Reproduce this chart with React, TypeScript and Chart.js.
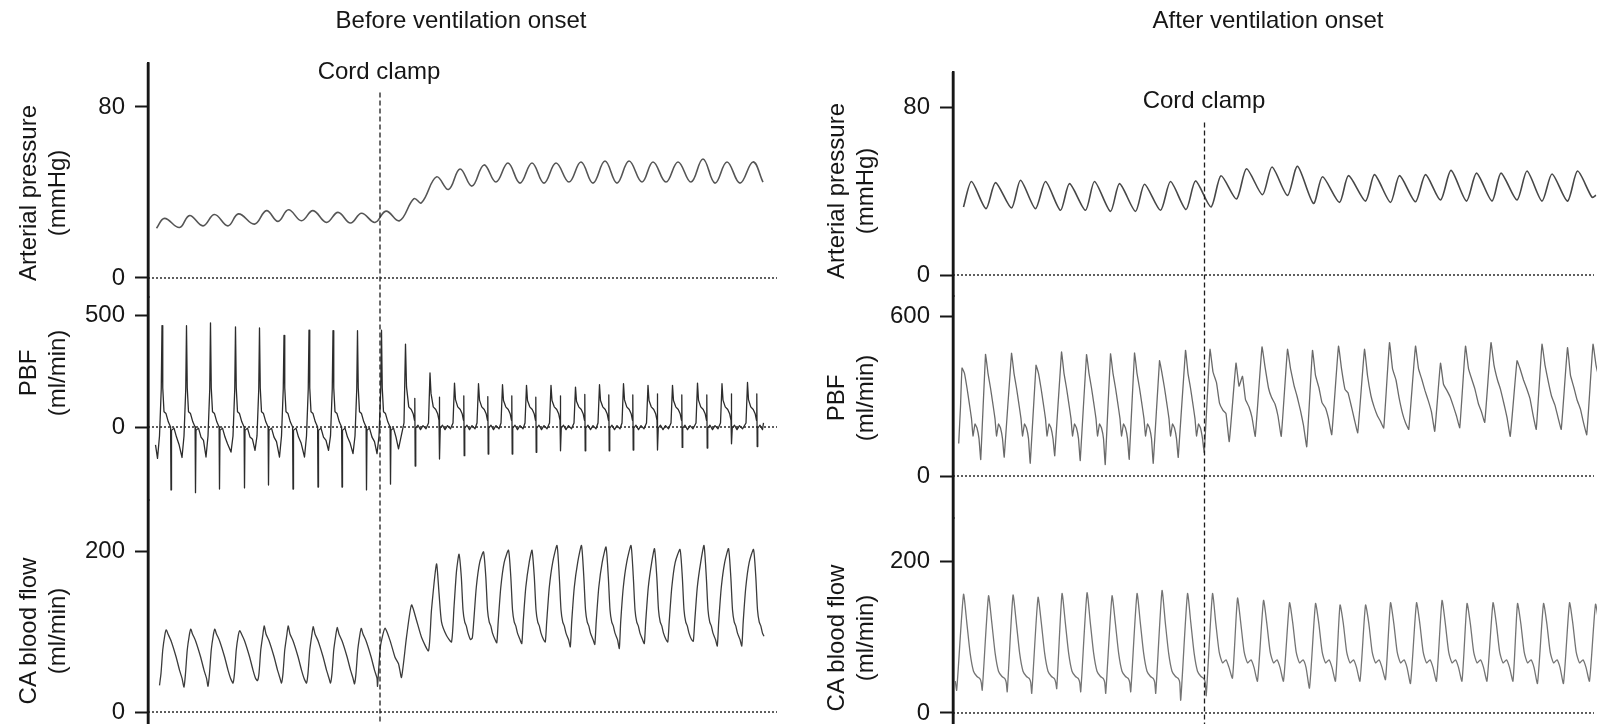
import React, { useEffect, useRef } from 'react';
import { Chart, registerables } from 'chart.js';

Chart.register(...registerables);

type Pair = [number, number];
type Shape = [number, number | string][];

const FONT = '"Liberation Sans", Arial, Helvetica, sans-serif';
const INK = '#161616';

// ================= LEFT PANEL: Before ventilation onset (time in s) =================
const cordClampBefore = 4.64;

const apBefore: Pair[] = [
  [0.17, 23.3], [0.33, 27.9], [0.63, 23.6], [0.83, 29.2], [1.10, 24.4], [1.33, 29.7], [1.60, 24.4],
  [1.81, 30.0], [2.13, 25.2], [2.37, 31.5], [2.60, 26.5], [2.81, 31.9], [3.07, 26.8], [3.30, 31.5],
  [3.57, 26.0], [3.80, 30.7], [4.05, 25.7], [4.27, 30.3], [4.54, 26.0], [4.76, 31.3], [5.03, 26.8],
  [5.32, 37.1], [5.47, 35.2], [5.77, 47.3], [6.01, 41.4], [6.24, 51.0], [6.48, 43.0], [6.72, 52.9],
  [6.96, 44.9], [7.20, 53.8], [7.44, 44.4], [7.68, 53.8], [7.92, 44.4], [8.16, 53.8], [8.42, 44.9],
  [8.66, 54.3], [8.90, 44.4], [9.14, 54.7], [9.38, 44.4], [9.62, 54.7], [9.88, 44.9], [10.10, 54.3],
  [10.36, 44.9], [10.60, 54.3], [10.86, 44.9], [11.10, 55.7], [11.34, 44.4], [11.58, 54.3],
  [11.84, 44.4], [12.10, 54.3], [12.30, 44.9],
];

const pbfBeforeLead: Pair[] = [[0.15, -80]];
const pbfPreTimes = [0.28, 0.77, 1.25, 1.75, 2.23, 2.72, 3.22, 3.70, 4.19, 4.67];
const pbfPrePeak = [453, 452, 465, 447, 442, 409, 432, 430, 430, 432];
const pbfPreDown = [-281, -293, -277, -272, -259, -277, -268, -268, -281, -255];
const pbfPreDip = [-140, -136, -134, -112, -104, -134, -134, -104, -119, -119];
const pbfPreMid = [-78, -60, -75, -55, -65, -70, -60, -70, -65, -98];
const pbfPreShape: Shape = [
  [-0.09, 'dip'], [-0.05, -40], [-0.015, 170], [0, 'pk'], [0.015, 175], [0.04, 68], [0.08, 60],
  [0.126, 23], [0.172, 0], [0.18, 'dn'], [0.19, -15], [0.24, -5], [0.29, -45], [0.34, 'mid'],
];
const pbfPostTimes = [5.15, 5.64, 6.13, 6.61, 7.09, 7.57, 8.06, 8.55, 9.03, 9.51, 10.0, 10.49, 10.99, 11.48, 11.99];
const pbfPostPeak = [370, 241, 196, 193, 189, 186, 186, 178, 189, 193, 186, 186, 196, 193, 199];
const pbfPostShoulder = [180, 150, 122, 120, 118, 118, 118, 115, 118, 121, 118, 118, 120, 120, 122];
const pbfPostUp = [128, 133, 139, 136, 139, 133, 139, 145, 143, 143, 148, 143, 143, 148, 148];
const pbfPostDown = [-174, -143, -128, -121, -121, -113, -106, -106, -106, -103, -103, -91, -94, -75, -87];
const pbfPostShape: Shape = [
  [-0.03, 18], [0, 'pk'], [0.02, 'sh'], [0.065, 90], [0.115, 78], [0.155, 58], [0.18, 30],
  [0.186, 'up'], [0.194, 'dn'], [0.205, -5], [0.25, 8], [0.3, -12], [0.35, 6], [0.41, -8],
];
const pbfBeforeTail: Pair[] = [[12.31, 18]];

const caPreTroughTimes = [0.23, 0.72, 1.20, 1.70, 2.19, 2.67, 3.17, 3.65, 4.13];
const caPreTrough = [33, 31, 32, 36, 39, 36, 36, 36, 35];
const caPrePeak = [102, 103, 103, 101, 107, 107, 106, 105, 104];
const caPreShape: Shape = [
  [0, 'tr'], [0.03, 48], [0.065, 77], [0.105, 95], [0.134, 'pk'], [0.17, 97], [0.234, 88],
  [0.334, 68], [0.40, 52], [0.45, 42],
];
const caTransition: Pair[] = [
  [4.59, 32], [4.65, 82], [4.74, 104], [4.84, 89], [4.94, 68], [5.01, 60], [5.07, 43], [5.17, 93],
  [5.27, 133], [5.37, 114], [5.47, 93], [5.61, 76], [5.67, 127], [5.77, 184], [5.82, 148],
  [5.87, 112], [5.97, 95], [6.07, 87], [6.12, 130], [6.17, 175],
];
const caPostTimes = [6.22, 6.71, 7.21, 7.68, 8.18, 8.67, 9.16, 9.66, 10.13, 10.64, 11.12, 11.61, 12.11];
const caPostPeak = [196, 199, 201, 201, 207, 207, 205, 207, 203, 202, 207, 203, 202];
const caPostTrough = [92, 86, 85, 87, 81, 84, 79, 85, 87, 88, 82, 82, 90];
const caPostShape: Shape = [
  [0, 'pk'], [0.046, 168], [0.08, 127], [0.114, 112], [0.146, 107], [0.18, 98], [0.23, 90],
  [0.266, 'tr'], [0.294, 112], [0.346, 155], [0.414, 186],
];
const caBeforeTail: Pair[] = [[12.32, 94]];

// ================= RIGHT PANEL: After ventilation onset (time in s) =================
const cordClampAfter = 5.03;

const apAfter: Pair[] = [
  [0.21, 32.4], [0.37, 44.5], [0.66, 31.6], [0.85, 44.0], [1.17, 31.9], [1.35, 45.1], [1.65, 31.6],
  [1.85, 44.5], [2.15, 30.8], [2.33, 43.5], [2.65, 30.8], [2.83, 44.5], [3.15, 30.3], [3.33, 43.5],
  [3.65, 30.3], [3.83, 43.2], [4.15, 30.8], [4.35, 44.5], [4.66, 31.2], [4.85, 44.8], [5.16, 32.4],
  [5.36, 47.3], [5.67, 36.2], [5.87, 50.6], [6.19, 38.2], [6.38, 51.4], [6.69, 37.9], [6.89, 51.8],
  [7.21, 34.1], [7.39, 46.8], [7.73, 34.6], [7.91, 47.3], [8.25, 35.2], [8.43, 47.8], [8.75, 34.6],
  [8.93, 47.3], [9.25, 34.9], [9.45, 47.8], [9.75, 35.7], [9.96, 49.8], [10.27, 35.2], [10.47, 48.5],
  [10.78, 35.2], [10.96, 48.5], [11.28, 35.7], [11.48, 49.5], [11.78, 35.2], [11.98, 48.1],
  [12.29, 35.2], [12.49, 49.5], [12.78, 37.0], [12.86, 38.0],
];

const pbfAfterLead: Pair[] = [[0.114, 122], [0.15, 260]];
const pbfAPreTimes = [0.18, 0.65, 1.17, 1.66, 2.17, 2.67, 3.15, 3.63, 4.13, 4.65];
const pbfAPrePeak = [405, 456, 460, 415, 465, 455, 458, 461, 432, 471];
const pbfAPreTrough = [62, 71, 48, 76, 58, 43, 63, 48, 70, 88];
const pbfAPreShape: Shape = [
  [0, 'pk'], [0.05, 385], [0.10, 330], [0.14, 280], [0.19, 215], [0.22, 150], [0.26, 195],
  [0.30, 180], [0.34, 140], [0.375, 'tr'],
];
const pbfAPostTimes = [5.14, 5.66, 6.18, 6.69, 7.19, 7.71, 8.23, 8.73, 9.25, 9.75, 10.25, 10.76, 11.28, 11.78, 12.29, 12.80];
const pbfAPostPeak = [475, 423, 484, 475, 471, 487, 475, 500, 487, 423, 487, 500, 432, 494, 481, 494];
const pbfAPostA = [390, 337, 410, 403, 377, 403, 377, 403, 403, 344, 403, 416, 403, 416, 377, 416];
const pbfAPostB = [350, 374, 330, 340, 330, 325, 300, 360, 360, 320, 360, 360, 360, 350, 330, 360];
const pbfAPostC = [273, 286, 295, 300, 275, 312, 260, 295, 320, 298, 325, 325, 330, 300, 286, 320];
const pbfAPostD = [246, 259, 270, 245, 255, 259, 225, 235, 280, 260, 270, 270, 290, 265, 250, 280];
const pbfAPostE = [234, 220, 225, 190, 215, 210, 205, 200, 240, 225, 240, 220, 230, 220, 200, 240];
const pbfAPostTrough = [129, 149, 149, 110, 155, 162, 180, 175, 168, 181, 201, 149, 175, 175, 155, 160];
const pbfAPostShape: Shape = [
  [0, 'pk'], [0.06, 'a'], [0.13, 'b'], [0.19, 'c'], [0.26, 'd'], [0.32, 'e'], [0.385, 'tr'],
];

const caAfterLead: Pair[] = [[0.046, 42], [0.074, 30]];
const caAPreTimes = [0.21, 0.71, 1.20, 1.70, 2.18, 2.68, 3.18, 3.68, 4.18, 4.69];
const caAPrePeak = [156, 154, 155, 152, 157, 158, 154, 157, 161, 157];
const caAPreTrough = [30, 28, 26, 32, 28, 26, 28, 26, 17, 23];
const caAPreShape: Shape = [
  [0, 'pk'], [0.066, 119], [0.134, 78], [0.2, 55], [0.27, 48], [0.33, 45], [0.355, 40], [0.375, 'tr'],
];
const caAPostTimes = [5.19, 5.69, 6.21, 6.73, 7.25, 7.74, 8.25, 8.75, 9.27, 9.78, 10.28, 10.80, 11.29, 11.81, 12.33, 12.85];
const caAPostPeak = [157, 151, 148, 145, 144, 142, 142, 145, 145, 148, 144, 145, 144, 144, 145, 143];
const caAPostTrough = [46, 42, 42, 33, 42, 42, 44, 39, 42, 42, 42, 42, 39, 39, 42, 40];
const caAPostShape: Shape = [
  [0, 'pk'], [0.066, 118], [0.134, 80], [0.2, 66], [0.27, 70], [0.33, 60], [0.40, 'tr'],
];

// ================= helpers =================
const toPts = (pairs: Pair[]) => pairs.map(([x, y]) => ({ x, y }));

function buildBeats(times: number[], feats: Record<string, number[]>, shape: Shape, tMax = Infinity) {
  const out: { x: number; y: number }[] = [];
  times.forEach((t0, i) => {
    shape.forEach(([dt, f]) => {
      const x = Math.round((t0 + dt) * 1000) / 1000;
      if (x <= tMax) out.push({ x, y: typeof f === 'string' ? feats[f][i] : f });
    });
  });
  return out;
}

function yScale(min: number, max: number, ticks: number[], weight: number, stackWeight: number, stack: string, width: number) {
  return {
    type: 'linear',
    position: 'left',
    stack,
    stackWeight,
    weight,
    min,
    max,
    afterBuildTicks: (s: any) => {
      s.ticks = ticks.map((v) => ({ value: v }));
    },
    afterFit: (s: any) => {
      s.width = width;
      s.paddingTop = 0;
      s.paddingBottom = 0;
      s.paddingLeft = 0;
      s.paddingRight = 0;
    },
    grid: { display: true, drawOnChartArea: false, drawTicks: true, tickLength: 13, tickWidth: 2, tickColor: INK },
    border: { display: true, width: 2.5, color: INK },
    ticks: { color: INK, font: { family: FONT, size: 24 }, padding: 10, autoSkip: false, maxRotation: 0 },
  };
}

function trace(data: any[], axis: string, color: string, width: number, tension: number) {
  return {
    data,
    yAxisID: axis,
    borderColor: color,
    borderWidth: width,
    pointRadius: 0,
    tension,
    fill: false,
    clip: false,
    borderJoinStyle: 'round',
  };
}

function zeroLine(axis: string, xEnd: number) {
  return {
    data: [{ x: 0, y: 0 }, { x: xEnd, y: 0 }],
    yAxisID: axis,
    borderColor: '#2a2a2a',
    borderWidth: 1.5,
    borderDash: [2, 2],
    pointRadius: 0,
    fill: false,
    clip: false,
  };
}

function clampLine(xv: number, top: number) {
  return {
    data: [{ x: xv, y: top }, { x: xv, y: -230 }],
    yAxisID: 'yAP',
    borderColor: '#1e1e1e',
    borderWidth: 1.3,
    borderDash: [5, 3],
    pointRadius: 0,
    fill: false,
    clip: false,
  };
}

// continuous vertical axis line drawn over the three stacked axis borders
function axisLine(top: number) {
  return {
    data: [{ x: 0, y: top }, { x: 0, y: -260 }],
    yAxisID: 'yAP',
    borderColor: INK,
    borderWidth: 2.5,
    pointRadius: 0,
    fill: false,
    clip: false,
  };
}

function baseOptions(padTop: number, padRight: number, xMax: number, scales: any) {
  return {
    responsive: false,
    animation: false,
    events: [],
    devicePixelRatio: 1,
    layout: { padding: { top: padTop, right: padRight, bottom: 0, left: 0 } },
    plugins: { legend: { display: false }, tooltip: { enabled: false }, title: { display: false } },
    scales: {
      x: { type: 'linear', min: 0, max: xMax, display: false },
      ...scales,
    },
  };
}

function leftConfig(): any {
  const pbf = [
    ...toPts(pbfBeforeLead),
    ...buildBeats(pbfPreTimes, { pk: pbfPrePeak, dn: pbfPreDown, dip: pbfPreDip, mid: pbfPreMid }, pbfPreShape),
    ...buildBeats(pbfPostTimes, { pk: pbfPostPeak, sh: pbfPostShoulder, up: pbfPostUp, dn: pbfPostDown }, pbfPostShape, 12.3),
    ...toPts(pbfBeforeTail),
  ];
  const ca = [
    ...buildBeats(caPreTroughTimes, { tr: caPreTrough, pk: caPrePeak }, caPreShape),
    ...toPts(caTransition),
    ...buildBeats(caPostTimes, { pk: caPostPeak, tr: caPostTrough }, caPostShape, 12.31),
    ...toPts(caBeforeTail),
  ];
  return {
    type: 'line',
    data: {
      datasets: [
        axisLine(100.58),
        clampLine(cordClampBefore, 86.8),
        trace(toPts(apBefore), 'yAP', '#555555', 1.6, 0.4),
        trace(pbf, 'yPBF', '#2c2c2c', 1.3, 0),
        trace(ca, 'yCA', '#3c3c3c', 1.3, 0.2),
        zeroLine('yAP', 12.58),
        zeroLine('yPBF', 12.58),
        zeroLine('yCA', 12.58),
      ],
    },
    options: baseOptions(63, 10, 12.84, {
      yAP: yScale(-8.89, 100.58, [0, 80], 3, 234, 'L', 148),
      yPBF: yScale(-325.9, 580.4, [0, 500], 2, 203, 'L', 148),
      yCA: yScale(-14.9, 263.4, [0, 200], 1, 224, 'L', 148),
    }),
  };
}

function rightConfig(): any {
  const pbf = [
    ...toPts(pbfAfterLead),
    ...buildBeats(pbfAPreTimes, { pk: pbfAPrePeak, tr: pbfAPreTrough }, pbfAPreShape),
    ...buildBeats(
      pbfAPostTimes,
      { pk: pbfAPostPeak, a: pbfAPostA, b: pbfAPostB, c: pbfAPostC, d: pbfAPostD, e: pbfAPostE, tr: pbfAPostTrough },
      pbfAPostShape,
    ),
  ];
  const ca = [
    ...toPts(caAfterLead),
    ...buildBeats(caAPreTimes, { pk: caAPrePeak, tr: caAPreTrough }, caAPreShape),
    ...buildBeats(caAPostTimes, { pk: caAPostPeak, tr: caAPostTrough }, caAPostShape),
  ];
  return {
    type: 'line',
    data: {
      datasets: [
        axisLine(96.67),
        clampLine(cordClampAfter, 72.6),
        trace(toPts(apAfter), 'yAP', '#474747', 1.6, 0.25),
        trace(pbf, 'yPBF', '#6a6a6a', 1.3, 0.1),
        trace(ca, 'yCA', '#747474', 1.3, 0.2),
        zeroLine('yAP', 12.82),
        zeroLine('yPBF', 12.82),
        zeroLine('yCA', 12.82),
      ],
    },
    options: baseOptions(72, 0, 12.88, {
      yAP: yScale(-10, 96.67, [0, 80], 3, 224, 'R', 153),
      yPBF: yScale(-157.5, 675, [0, 600], 2, 222, 'R', 153),
      yCA: yScale(-14.5, 256.6, [0, 200], 1, 206, 'R', 153),
    }),
  };
}

function ChartCanvas({ make, left, width }: { make: () => any; left: number; width: number }) {
  const ref = useRef<HTMLCanvasElement>(null);
  useEffect(() => {
    const chart = new Chart(ref.current as HTMLCanvasElement, make());
    return () => chart.destroy();
  }, []);
  return (
    <canvas
      ref={ref}
      width={width}
      height={724}
      style={{ position: 'absolute', left, top: 0, width, height: 724 }}
    />
  );
}

function Label({ text, x, y }: { text: string; x: number; y: number }) {
  return (
    <div
      style={{
        position: 'absolute', left: x, top: y, transform: 'translate(-50%, -50%)',
        fontFamily: FONT, fontSize: 24, lineHeight: 1, whiteSpace: 'nowrap', color: INK,
      }}
    >
      {text}
    </div>
  );
}

function AxisTitle({ lines, x, y }: { lines: string[]; x: number; y: number }) {
  return (
    <div
      style={{
        position: 'absolute', left: x, top: y, transform: 'translate(-50%, -50%) rotate(-90deg)',
        fontFamily: FONT, fontSize: 24, lineHeight: '29px', whiteSpace: 'nowrap', textAlign: 'center', color: INK,
      }}
    >
      {lines.map((l, i) => (
        <div key={i}>{l}</div>
      ))}
    </div>
  );
}

export default function App() {
  return (
    <div style={{ position: 'absolute', left: 0, top: 0, width: 1597, height: 724, background: '#ffffff', overflow: 'hidden' }}>
      <ChartCanvas make={leftConfig} left={0} width={800} />
      <ChartCanvas make={rightConfig} left={800} width={797} />
      <Label text="Before ventilation onset" x={461} y={20} />
      <Label text="After ventilation onset" x={1268} y={20} />
      <Label text="Cord clamp" x={379} y={71} />
      <Label text="Cord clamp" x={1204} y={100} />
      <AxisTitle lines={['Arterial pressure', '(mmHg)']} x={42} y={193} />
      <AxisTitle lines={['PBF', '(ml/min)']} x={42} y={373} />
      <AxisTitle lines={['CA blood flow', '(ml/min)']} x={42} y={631} />
      <AxisTitle lines={['Arterial pressure', '(mmHg)']} x={850} y={191} />
      <AxisTitle lines={['PBF', '(ml/min)']} x={850} y={398} />
      <AxisTitle lines={['CA blood flow', '(ml/min)']} x={850} y={638} />
    </div>
  );
}
